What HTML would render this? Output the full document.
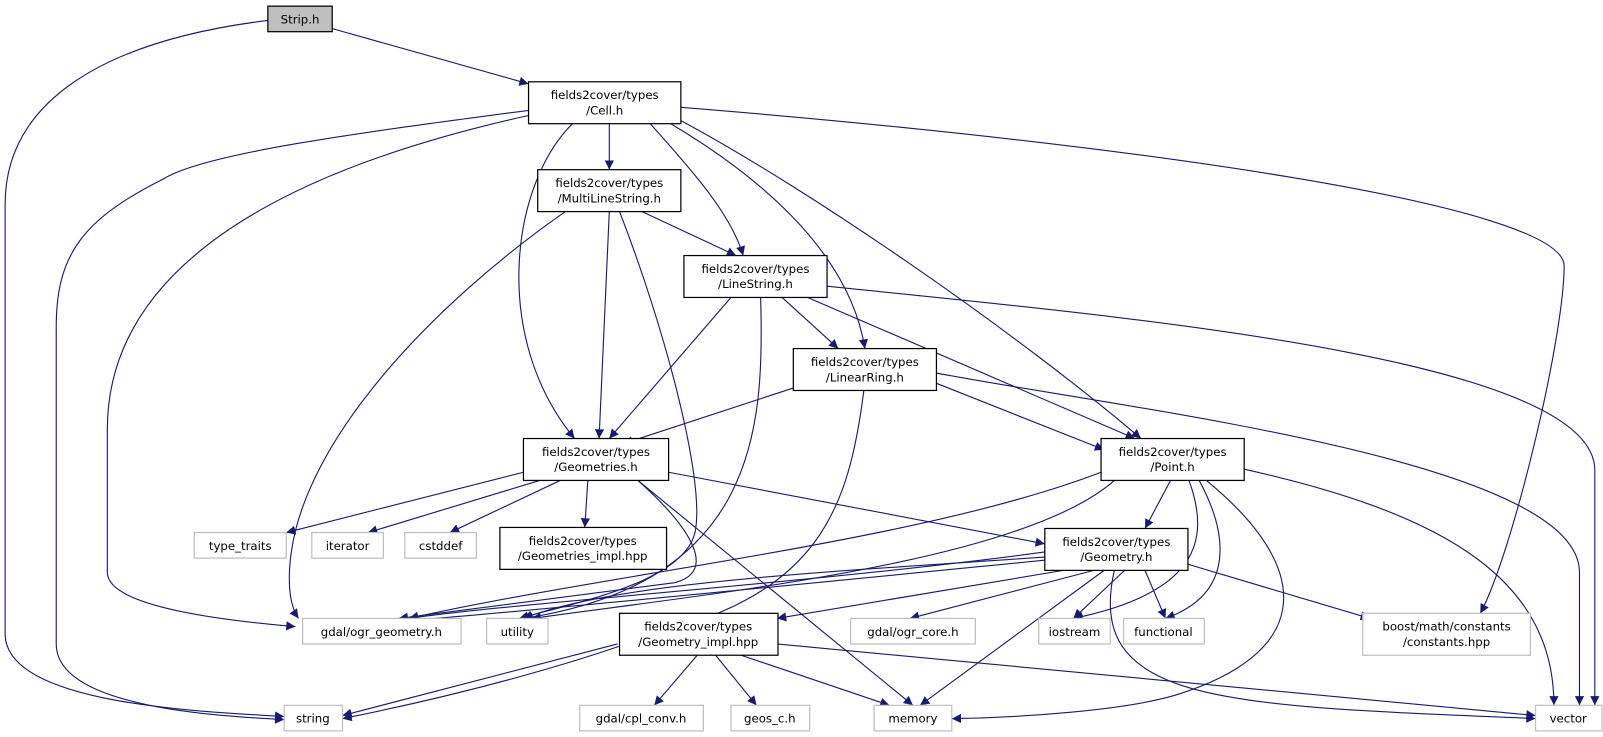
<!DOCTYPE html>
<html><head><meta charset="utf-8"><style>
html,body{margin:0;padding:0;background:#fff;width:1603px;height:737px;overflow:hidden}
svg{display:block}
text{font-family:"DejaVu Sans","Liberation Sans",sans-serif;font-size:11.5px;fill:#000;text-anchor:middle}
.e{fill:none;stroke:#191970;stroke-width:1.1}
.n{fill:#fff;stroke:#000;stroke-width:1.2}
.g{fill:#fff;stroke:#bfbfbf;stroke-width:1.2}
</style></head><body>
<svg width="1603" height="737" viewBox="0 0 1568 721" preserveAspectRatio="none">
<defs><marker id="a" viewBox="0 0 10 10" refX="10" refY="5" markerWidth="11" markerHeight="9" markerUnits="userSpaceOnUse" orient="auto"><path d="M0,0 L10,5 L0,10 z" fill="#191970"/></marker></defs>
<g class="e" marker-end="url(#a)">
<path d="M325,28 L517,82"/>
<path d="M262,20 C100,40 5,100 5,200 L5,620 C5,690 200,696 278,701"/>
<path d="M517,108 C350,130 200,150 160,175 C80,215 55,250 55,320 L55,630 C55,690 200,700 278,704"/>
<path d="M517,113 C350,150 105,230 105,420 L105,560 C105,595 230,608 289,613"/>
<path d="M596,121 L596,166"/>
<path d="M560,121 C500,180 480,330 562,429"/>
<path d="M636,121 C680,170 715,210 727,250"/>
<path d="M656,121 C730,165 830,240 846,341"/>
<path d="M666,118 C800,190 1000,330 1116,429"/>
<path d="M666,105 C1100,140 1530,200 1530,260 C1530,330 1480,540 1448,600"/>
<path d="M628,207 L720,250"/>
<path d="M596,207 L586,429"/>
<path d="M553,207 C420,300 300,430 285,540 C280,575 285,595 292,605"/>
<path d="M606,207 C650,320 690,470 680,520 C670,570 560,590 508,605"/>
<path d="M715,291 L596,429"/>
<path d="M765,291 L820,341"/>
<path d="M790,291 L1110,429"/>
<path d="M809,280 C1100,310 1560,350 1560,460 L1560,690"/>
<path d="M744,291 C748,420 740,570 512,605"/>
<path d="M790,375 L610,434"/>
<path d="M916,375 L1080,440"/>
<path d="M916,365 C1100,400 1545,450 1545,560 L1545,690"/>
<path d="M845,382 C830,500 800,580 640,620 C560,650 450,680 335,703"/>
<path d="M512,462 L280,521"/>
<path d="M528,470 L360,521"/>
<path d="M548,470 L440,521"/>
<path d="M575,470 L572,516"/>
<path d="M624,470 C680,520 700,560 660,570 L390,605"/>
<path d="M624,470 L893,690"/>
<path d="M654,462 L1022,532"/>
<path d="M1145,470 L1120,517"/>
<path d="M1077,462 C900,530 600,560 400,605"/>
<path d="M1090,470 C1000,550 700,580 520,605"/>
<path d="M1163,470 C1185,530 1170,580 1050,605"/>
<path d="M1173,470 C1200,520 1210,580 1140,605"/>
<path d="M1180,470 C1290,560 1280,640 1150,680 C1100,695 1000,702 931,703"/>
<path d="M1217,459 C1400,500 1520,560 1520,690"/>
<path d="M1022,540 C800,570 500,590 400,605"/>
<path d="M1022,545 C800,560 600,570 512,605"/>
<path d="M1022,548 C900,560 500,600 400,607"/>
<path d="M1040,558 L760,605"/>
<path d="M1070,558 L890,605"/>
<path d="M1100,558 L1050,605"/>
<path d="M1120,558 L1140,605"/>
<path d="M1162,552 L1340,605"/>
<path d="M1080,558 L900,690"/>
<path d="M1090,558 C1060,690 1200,690 1502,703"/>
<path d="M604,630 L335,700"/>
<path d="M682,641 L640,690"/>
<path d="M700,641 L740,690"/>
<path d="M725,641 L870,690"/>
<path d="M760,630 L1502,700"/>
</g>
<rect x="262" y="6" width="63" height="25" fill="#bfbfbf" stroke="#000" stroke-width="1.2"/><text x="293.5" y="23">Strip.h</text>
<rect class="n" x="517" y="80" width="149" height="41"/><text x="591.5" y="97">fields2cover/types</text><text x="591.5" y="112">/Cell.h</text>
<rect class="n" x="526" y="166" width="140" height="41"/><text x="596" y="183">fields2cover/types</text><text x="596" y="198">/MultiLineString.h</text>
<rect class="n" x="669" y="250" width="140" height="41"/><text x="739" y="267">fields2cover/types</text><text x="739" y="282">/LineString.h</text>
<rect class="n" x="776" y="341" width="140" height="41"/><text x="846" y="358">fields2cover/types</text><text x="846" y="373">/LinearRing.h</text>
<rect class="n" x="512" y="429" width="142" height="41"/><text x="583" y="446">fields2cover/types</text><text x="583" y="461">/Geometries.h</text>
<rect class="n" x="1077" y="429" width="140" height="41"/><text x="1147" y="446">fields2cover/types</text><text x="1147" y="461">/Point.h</text>
<rect class="n" x="1022" y="517" width="140" height="41"/><text x="1092" y="534">fields2cover/types</text><text x="1092" y="549">/Geometry.h</text>
<rect class="g" x="190" y="521" width="90" height="25"/><text x="235" y="538">type_traits</text>
<rect class="g" x="305" y="521" width="70" height="25"/><text x="340" y="538">iterator</text>
<rect class="g" x="396" y="521" width="70" height="25"/><text x="431" y="538">cstddef</text>
<rect class="n" x="489" y="516" width="163" height="41"/><text x="570" y="533">fields2cover/types</text><text x="570" y="548">/Geometries_impl.hpp</text>
<rect class="g" x="296" y="605" width="155" height="25"/><text x="373" y="622">gdal/ogr_geometry.h</text>
<rect class="g" x="476" y="605" width="60" height="25"/><text x="506" y="622">utility</text>
<rect class="n" x="606" y="600" width="155" height="41"/><text x="683" y="617">fields2cover/types</text><text x="683" y="632">/Geometry_impl.hpp</text>
<rect class="g" x="832" y="605" width="122" height="25"/><text x="893" y="622">gdal/ogr_core.h</text>
<rect class="g" x="1016" y="605" width="70" height="25"/><text x="1051" y="622">iostream</text>
<rect class="g" x="1099" y="605" width="79" height="25"/><text x="1138" y="622">functional</text>
<rect class="g" x="1333" y="600" width="164" height="41"/><text x="1415" y="617">boost/math/constants</text><text x="1415" y="632">/constants.hpp</text>
<rect class="g" x="278" y="690" width="57" height="25"/><text x="306" y="707">string</text>
<rect class="g" x="567" y="690" width="121" height="25"/><text x="627" y="707">gdal/cpl_conv.h</text>
<rect class="g" x="715" y="690" width="77" height="25"/><text x="753" y="707">geos_c.h</text>
<rect class="g" x="855" y="690" width="76" height="25"/><text x="893" y="707">memory</text>
<rect class="g" x="1502" y="690" width="65" height="25"/><text x="1534" y="707">vector</text>
</svg>
</body></html>
